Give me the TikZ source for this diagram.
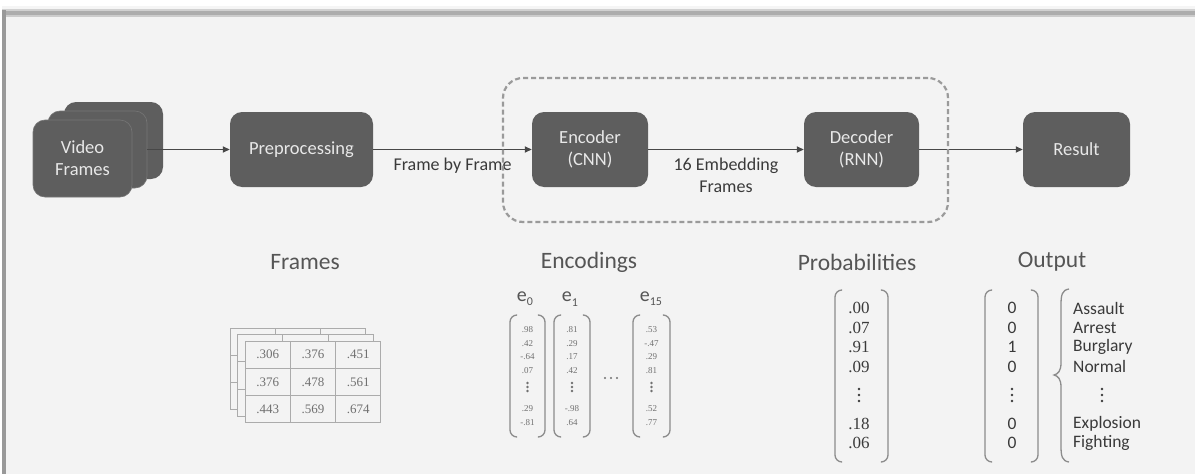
\documentclass[tikz,border=0pt]{standalone}
\usepackage{fontspec}
\setmainfont{Carlito}
\newfontfamily\numfont{Liberation Serif}
\usetikzlibrary{arrows.meta}

\definecolor{panelbg}{HTML}{F3F3F3}
\definecolor{boxfill}{HTML}{5E5E5E}
\definecolor{boxtext}{HTML}{E8E8E8}
\definecolor{linec}{HTML}{474747}
\definecolor{dashc}{HTML}{9A9A9A}
\definecolor{gridc}{HTML}{ABABAB}
\definecolor{headc}{HTML}{555555}
\definecolor{valc}{HTML}{707070}
\definecolor{brc}{HTML}{8C8C8C}
\definecolor{txtc}{HTML}{3A3A3A}

\tikzset{
  stage/.style={fill=boxfill, rounded corners=12pt, text=boxtext, align=center,
    font=\fontsize{18.5}{22}\selectfont, inner sep=0pt},
  flow/.style={draw=linec, line width=1.8pt, -{Triangle[length=7pt,width=6pt]}},
  flowlabel/.style={text=txtc, font=\fontsize{18}{22}\selectfont, align=center},
  heading/.style={text=headc, font=\fontsize{23.5}{26}\selectfont},
  group/.style={draw=dashc, line width=2.2pt, dash pattern=on 5pt off 3pt,
    rounded corners=20pt, inner sep=0pt},
  cell/.style={draw=gridc, line width=1pt, fill=panelbg, minimum width=45.3pt,
    minimum height=27.3pt, inner sep=0pt, text=valc,
    font=\numfont\fontsize{13}{13}\selectfont},
  bracket/.style={draw=brc, line width=1.3pt, rounded corners=7pt},
  elabel/.style={text=headc, font=\fontsize{20}{20}\selectfont, inner sep=0pt},
  tinyval/.style={text=valc, font=\numfont\fontsize{9}{9}\selectfont, inner sep=0pt},
  probval/.style={text=txtc, font=\numfont\fontsize{17}{17}\selectfont, inner sep=0pt},
  outval/.style={text=txtc, font=\fontsize{17.5}{17.5}\selectfont, inner sep=0pt},
  classlabel/.style={text=txtc, font=\fontsize{17.5}{17.5}\selectfont, inner sep=0pt, anchor=west},
  dotmark/.style={fill=#1},
}

% a pair of round-ended brackets around a column vector
\newcommand{\colbrackets}[4]{%
  \draw[bracket] (#1+6,#3) -- (#1,#3) -- (#1,#4) -- (#1+6,#4);
  \draw[bracket] (#2-6,#3) -- (#2,#3) -- (#2,#4) -- (#2-6,#4);}
% three stacked dots
\newcommand{\stackdots}[4]{%
  \foreach \k in {-1,0,1} \fill[#4] (#1,#2+\k*#3) circle[radius=1.3pt];}

\begin{document}
\begin{tikzpicture}[x=1pt,y=-1pt]
\useasboundingbox (0,0) rectangle (1195,474);

% page and panel with its soft top/left shadow
\fill[white] (0,0) rectangle (1195,474);
\fill[black!4] (2,6) rectangle (1195,11);
\fill[black!18] (2,9) rectangle (1195,11);
\fill[black!32] (2,11) rectangle (1195,15);
\fill[black!40] (2,10) rectangle (6,474);
\fill[black!20] (6,15) rectangle (1195,18);
\fill[panelbg] (6,17) rectangle (1195,474);

% ---- pipeline ----
\node[stage, minimum width=99pt, minimum height=77pt] (vf3) at (113.5,140.5) {};
\node[stage, minimum width=99pt, minimum height=77pt, draw=boxfill!85!white, line width=0.6pt] (vf2) at (97.5,149.5) {};
\node[stage, minimum width=99pt, minimum height=77pt, draw=boxfill!85!white, line width=0.6pt] (vf1) at (82.5,158.5) {Video\\Frames};

\node[stage, minimum width=143pt, minimum height=75pt] (pre) at (301.5,149.5) {Preprocessing};
\node[stage, minimum width=116pt, minimum height=75pt] (enc) at (590,149.5) {Encoder\\(CNN)};
\node[stage, minimum width=115pt, minimum height=75pt] (dec) at (861.5,149.5) {Decoder\\(RNN)};
\node[stage, minimum width=107pt, minimum height=75pt] (res) at (1076.5,149.5) {Result};

\draw[flow] (vf2.east |- pre.west) -- (pre.west);
\draw[flow] (pre.east) -- node[flowlabel, below=4pt] (fbf) {Frame by Frame} (enc.west);
\draw[flow] (enc.east) -- node[flowlabel, below=4pt] (emb) {16 Embedding\\Frames} (dec.west);
\draw[flow] (dec.east) -- (res.west);

\node[group, minimum width=445pt, minimum height=144pt] (model) at (725.5,150) {};

% ---- headings ----
\node[heading] (hframes) at (305,262) {Frames};
\node[heading] (henc) at (589,262) {Encodings};
\node[heading] (hprob) at (857,262) {Probabilities};
\node[heading] (hout) at (1052,262) {Output};

% ---- stacked frame tables ----
\foreach \L/\dx/\dy in {2/-15/-13, 1/-7.5/-6.5} {
  \foreach \r in {1,2,3} {
    \foreach \c in {1,2,3} {
      \node[cell] (t\L-\r-\c) at (245+\dx+45.33*\c-22.67, 341+\dy+27.33*\r-13.67) {};
    }
  }
}
\foreach \r/\va/\vb/\vc in {1/.306/.376/.451, 2/.376/.478/.561, 3/.443/.569/.674} {
  \node[cell] (t0-\r-1) at (267.67, 341+27.33*\r-13.67) {\va};
  \node[cell] (t0-\r-2) at (313.00, 341+27.33*\r-13.67) {\vb};
  \node[cell] (t0-\r-3) at (358.33, 341+27.33*\r-13.67) {\vc};
}

% ---- encodings ----
\node[elabel] (le0) at (525,299) {e\raisebox{-0.45ex}{\fontsize{12}{12}\selectfont 0}};
\node[elabel] (le1) at (570,299) {e\raisebox{-0.45ex}{\fontsize{12}{12}\selectfont 1}};
\node[elabel] (le15) at (651,299) {e\raisebox{-0.45ex}{\fontsize{12}{12}\selectfont 15}};

\colbrackets{510}{545}{315}{437}
\colbrackets{554}{590}{315}{437}
\colbrackets{633}{670}{315}{437}

\foreach \n/\cx/\a/\b/\c/\d/\e/\f in {
    0/527.5/.98/.42/-.64/.07/.29/-.81,
    1/572/.81/.29/.17/.42/-.98/.64,
    15/651.5/.53/-.47/.29/.81/.52/.77} {
  \node[tinyval] (v\n-1) at (\cx,330) {\a};
  \node[tinyval] (v\n-2) at (\cx,343.5) {\b};
  \node[tinyval] (v\n-3) at (\cx,357) {\c};
  \node[tinyval] (v\n-4) at (\cx,370.5) {\d};
  \node[tinyval] (v\n-5) at (\cx,409) {\e};
  \node[tinyval] (v\n-6) at (\cx,423) {\f};
  \stackdots{\cx}{387}{4}{valc}
}
\foreach \x in {605,611,617} \fill[valc] (\x,378) circle[radius=1.1pt];

% ---- probabilities ----
\colbrackets{835}{888}{290}{462}
\foreach \i/\y/\v in {1/308/.00, 2/327.5/.07, 3/347/.91, 4/366.5/.09, 5/424/.18, 6/443/.06}
  \node[probval] (p\i) at (859,\y) {\v};
\stackdots{859}{395}{6}{txtc}

% ---- output ----
\colbrackets{985}{1038}{290}{462}
\foreach \i/\y/\v in {1/308/0, 2/327.5/0, 3/347/1, 4/366.5/0, 5/424/0, 6/443/0}
  \node[outval] (o\i) at (1012,\y) {\v};
\stackdots{1012}{395}{6}{txtc}

\draw[draw=brc, line width=1.3pt]
  (1069,289) .. controls (1062,290) and (1061,295) .. (1061,305) -- (1061,363)
  .. controls (1061,371) and (1058,374) .. (1054,375)
  .. controls (1058,376) and (1061,379) .. (1061,387) -- (1061,446)
  .. controls (1061,456) and (1062,461) .. (1069,462);

\foreach \i/\y/\t in {1/308/Assault, 2/327.5/Arrest, 3/347/Burglary, 4/366.5/Normal, 5/424/Explosion, 6/443/Fighting}
  \node[classlabel] (c\i) at (1073,\y) {\t};
\stackdots{1102}{395}{6}{txtc}

\end{tikzpicture}
\end{document}
